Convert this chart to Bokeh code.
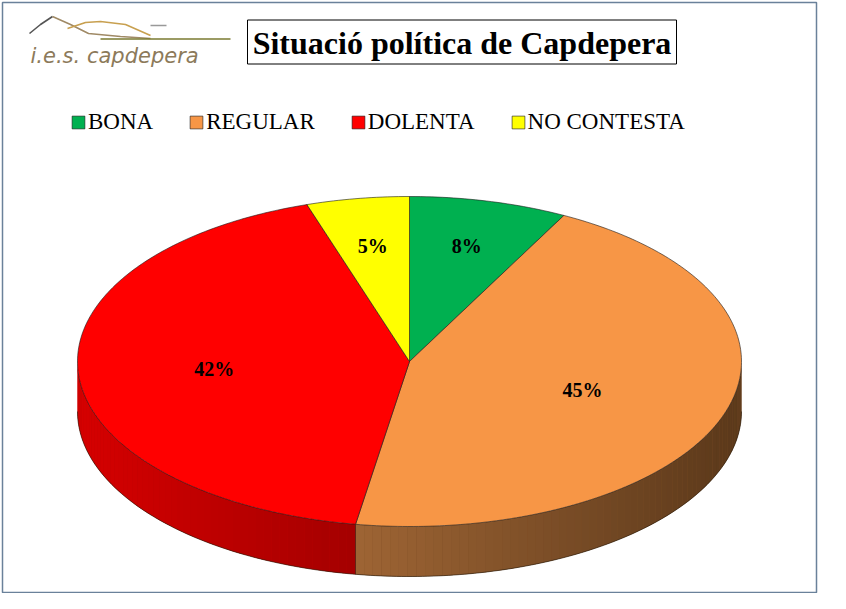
import numpy as np
from bokeh.plotting import figure
from bokeh.models import Range1d, Legend, LegendItem
from bokeh.core.properties import value
from bokeh.embed import file_html
from bokeh.resources import INLINE

# ---- data ----
categories = ["BONA", "REGULAR", "DOLENTA", "NO CONTESTA"]
values = [7.7, 44.9, 42.4, 5.0]
labels = ["8%", "45%", "42%", "5%"]
top_colors = ["#00b050", "#f79646", "#ff0000", "#ffff00"]
side_colors_a = ["#007a38", "#9e6434", "#a40000", "#b0b000"]   # colour near bottom-centre
side_colors_b = ["#005a28", "#5a381a", "#d60000", "#d0d000"]   # colour towards the rim ends
label_r = [0.72, 0.55, 0.59, 0.71]
title = "Situació política de Capdepera"

# ---- geometry (image pixel space) ----
W, H = 830, 593
cx, cy, a, b, depth = 409.0, 361.0, 332.0, 165.0, 50.0

p = figure(width=W, height=H, output_backend="svg", toolbar_location=None,
           x_range=Range1d(0, W), y_range=Range1d(H, 0),
           min_border=0, outline_line_color=None)
p.axis.visible = False
p.grid.visible = False
p.background_fill_color = "white"
p.border_fill_color = "white"

def pt(theta_deg, r=1.0, dy=0.0):
    t = np.radians(theta_deg)
    return cx + a * r * np.sin(t), cy - b * r * np.cos(t) + dy

total = float(sum(values))
bounds = np.concatenate([[0.0], np.cumsum(values) / total * 360.0])

def lerp(c1, c2, f):
    c1 = [int(c1[i:i + 2], 16) for i in (1, 3, 5)]
    c2 = [int(c2[i:i + 2], 16) for i in (1, 3, 5)]
    return "#%02x%02x%02x" % tuple(int(round(u + (v - u) * f)) for u, v in zip(c1, c2))

# ---- side wall (visible front half: 90..270 deg) ----
split_x = pt(bounds[2])[0]
bx_, by_, bc_ = [], [], []
sx, sy, sc = [], [], []
for i in range(len(values)):
    t0, t1 = max(bounds[i], 90.0), min(bounds[i + 1], 270.0)
    if t1 <= t0:
        continue
    n = max(2, int((t1 - t0) / 1.5))
    ts = np.linspace(t0, t1, n + 1)
    xt, yt = pt(ts)
    bx_.append(np.concatenate([xt, xt[::-1]]).tolist())
    by_.append(np.concatenate([yt, (yt + depth)[::-1]]).tolist())
    bc_.append(lerp(side_colors_a[i], side_colors_b[i], 0.5))
    for k in range(n):
        xa, ya = pt(ts[k]); xb, yb = pt(ts[k + 1])
        xm = 0.5 * (xa + xb)
        if xm >= split_x:
            f = (xm - split_x) / (cx + a - split_x)
        else:
            f = (split_x - xm) / (split_x - (cx - a))
        f = min(max(f, 0.0), 1.0)
        sx.append([xa, xb, xb, xa]); sy.append([ya, yb, yb + depth, ya + depth])
        sc.append(lerp(side_colors_a[i], side_colors_b[i], f))
p.patches(bx_, by_, fill_color=bc_, line_color=None)
p.patches(sx, sy, fill_color=sc, line_color=None)

# side outlines
ts = np.linspace(90, 270, 200)
bx, by = pt(ts, dy=depth)
p.line(bx, by, line_color="#2a1a0a", line_width=0.8, line_alpha=0.8)
for t in bounds:
    if 90 < t < 270:
        x0, y0 = pt(t)
        p.line([x0, x0], [y0, y0 + depth], line_color="#3a2010", line_width=0.8, line_alpha=0.8)

# ---- top face ----
px, py = [], []
for i in range(len(values)):
    ts = np.linspace(bounds[i], bounds[i + 1], max(3, int(values[i] * 4)))
    xs, ys = pt(ts)
    px.append(np.concatenate([[cx], xs]).tolist())
    py.append(np.concatenate([[cy], ys]).tolist())
top = p.patches(px, py, fill_color=top_colors, line_color="#1a1a1a", line_width=0.7, line_alpha=0.85)

# ---- data labels ----
lx, ly = [], []
for i in range(len(values)):
    mid = 0.5 * (bounds[i] + bounds[i + 1])
    x, y = pt(mid, r=label_r[i])
    lx.append(x); ly.append(y)
p.text(lx, ly, text=labels, text_font=value("Liberation Serif"), text_font_style="bold",
       text_font_size="20px", text_align="center", text_baseline="middle", text_color="black")

# ---- legend ----
legend = Legend(items=[LegendItem(label=c, renderers=[top], index=i) for i, c in enumerate(categories)],
                orientation="horizontal", location=(70, 458), glyph_width=16, glyph_height=16,
                label_standoff=2, spacing=35, padding=0, margin=0,
                border_line_color=None, background_fill_alpha=0,
                label_text_font="Liberation Serif", label_text_font_size="23px",
                label_text_color="black")
p.add_layout(legend)

# ---- title box ----
p.quad(left=[247], right=[676], top=[19.5], bottom=[63.5], fill_color=None, line_color="black", line_width=1)
p.text([461.5], [42], text=[title], text_font=value("Liberation Serif"), text_font_style="bold",
       text_font_size="32px", text_align="center", text_baseline="middle", text_color="black")

# ---- logo (decorative) ----
p.multi_line([[29, 40, 52], [52, 70, 88, 120, 150], [67, 85, 100, 125, 150], [100, 230], [150, 166]],
             [[33, 24, 16], [16, 24, 33, 36, 38], [28, 22, 21, 24, 35], [38.5, 38.5], [25, 25]],
             line_color=["#555555", "#a08a66", "#c8a050", "#7a7a30", "#999999"], line_width=1.6)
p.text([30], [55], text=["i.e.s. capdepera"], text_font=value("DejaVu Sans"), text_font_style="italic",
       text_font_size="21px", text_align="left", text_baseline="middle", text_color="#8c7a5a")

# ---- outer frame ----
p.quad(left=[2], right=[816], top=[2], bottom=[592], fill_color=None, line_color="#6a819a", line_width=1.5)

open("out.html", "w").write(file_html(p, INLINE))
